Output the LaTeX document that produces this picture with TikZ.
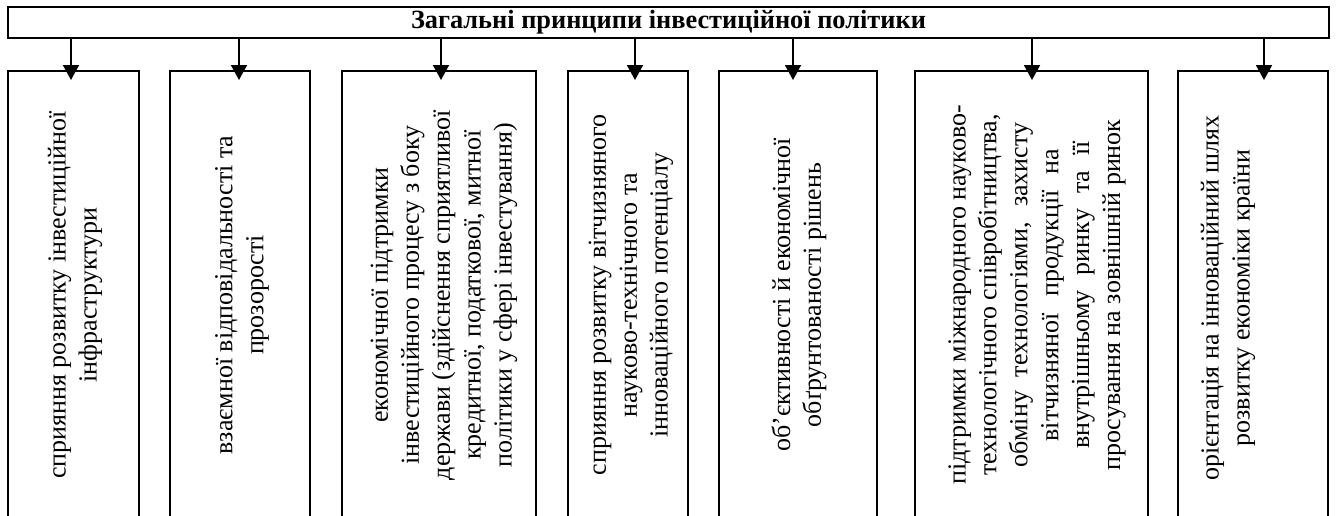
\documentclass[tikz,border=0pt]{standalone}
\usepackage{fontspec}
\setmainfont{Liberation Serif}
\usetikzlibrary{arrows.meta}

\begin{document}
\begin{tikzpicture}[
  x=0.02cm, y=-0.02cm,
  head/.style={draw, line width=1.1pt, minimum width=26.42cm, minimum height=0.62cm,
    inner sep=0pt, font=\fontsize{15}{18}\selectfont\bfseries},
  pbox/.style={draw, line width=1.1pt, minimum height=8.96cm, inner sep=0pt},
  ptext/.style={rotate=90, align=center, inner sep=0pt,
    font=\fontsize{14.8}{17.6}\selectfont},
  arr/.style={-{Triangle[width=3.2mm, length=3mm]}, line width=1.1pt},
]
\clip (0,0) rectangle (1336,515);

% --- general principles (top) ---
\node[head] (head) at (668.5,22.5) {Загальні принципи інвестиційної політики};

% --- principle boxes ---
\node[pbox, minimum width=2.62cm] (b1) at (73.5,295) {};
\node[pbox, minimum width=2.80cm] (b2) at (240,295) {};
\node[pbox, minimum width=3.88cm] (b3) at (439,295) {};
\node[pbox, minimum width=2.40cm] (b4) at (628,295) {};
\node[pbox, minimum width=3.16cm] (b5) at (798,295) {};
\node[pbox, minimum width=4.66cm] (b6) at (1031.5,295) {};
\node[pbox, minimum width=3.00cm] (b7) at (1253,295) {};

\node[ptext] (t1) at (75,295) {сприяння розвитку інвестиційної\\інфраструктури};
\node[ptext] (t2) at (242,295) {взаємної відповідальності та\\прозорості};
\node[ptext] (t3) at (444,295) {економічної підтримки\\інвестиційного процесу з боку\\держави (здійснення сприятливої\\кредитної, податкової, митної\\політики у сфері інвестування)};
\node[ptext] (t4) at (631,295) {сприяння розвитку вітчизняного\\науково-технічного та\\інноваційного потенціалу};
\node[ptext] (t5) at (799,295) {об’єктивності й економічної\\обґрунтованості рішень};
\node[ptext] (t6) at (1037,295) {підтримки міжнародного науково-\\технологічного співробітництва,\\\makebox[6.9cm][s]{обміну технологіями, захисту}\\\makebox[5.86cm][s]{вітчизняної продукції на}\\\makebox[6.16cm][s]{внутрішньому ринку та її}\\просування на зовнішній ринок};
\node[ptext] (t7) at (1228,298) {орієнтація на інноваційний шлях\\розвитку економіки країни};

% --- arrows ---
\coordinate (a1) at (71,80);
\coordinate (a2) at (239,80);
\coordinate (a3) at (441,80);
\coordinate (a4) at (635,80);
\coordinate (a5) at (793,80);
\coordinate (a6) at (1032,80);
\coordinate (a7) at (1264,80);

\foreach \i in {1,...,7}
  \draw[arr] (head.south -| a\i) -- (a\i);

\end{tikzpicture}
\end{document}
